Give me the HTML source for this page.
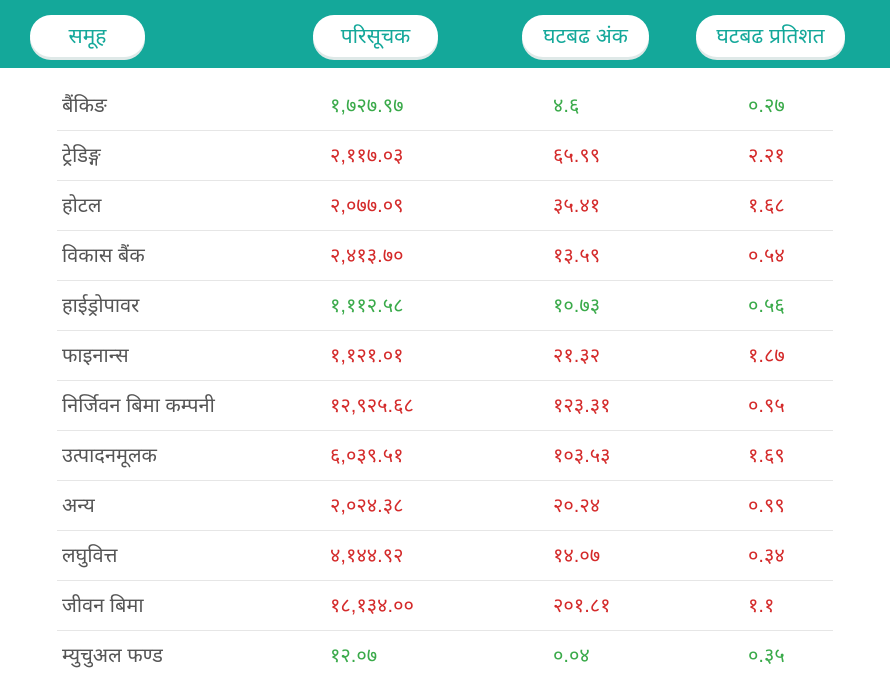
<!DOCTYPE html>
<html><head><meta charset="utf-8"><style>
body{margin:0;width:890px;height:691px;background:#fff;overflow:hidden;font-family:"Liberation Sans","Noto Sans CJK SC",sans-serif;position:relative}
.hdr{position:absolute;left:0;top:0;width:890px;height:68px;background:#14a89a}
.pill{position:absolute;top:15px;height:42px;background:#fff;border-radius:21px;color:#14a89a;font-size:21px;display:flex;align-items:center;justify-content:center;box-shadow:0 3px 0 #dfe9e8}
.row{position:absolute;left:57px;width:776px;height:50px}
.row .sep{position:absolute;left:0;right:0;bottom:0;height:1px;background:#e6e6e6}
.c{position:absolute;top:13px;font-size:20px;line-height:24px;white-space:nowrap}
.l{left:5px;color:#555}
.a{left:273px}.b{left:496px}.d{left:691px}
.g{color:#3aaa4a}.r{color:#d42a2a}
</style></head><body>
<div class="hdr">
<div class="pill" style="left:30px;width:115px">समूह</div>
<div class="pill" style="left:313px;width:125px">परिसूचक</div>
<div class="pill" style="left:522px;width:127px">घटबढ अंक</div>
<div class="pill" style="left:696px;width:149px">घटबढ प्रतिशत</div>
</div>
<div id="tbl"></div>
<script>
const sectors=["बैंकिङ","ट्रेडिङ्ग","होटल","विकास बैंक","हाईड्रोपावर","फाइनान्स","निर्जिवन बिमा कम्पनी","उत्पादनमूलक","अन्य","लघुवित्त","जीवन बिमा","म्युचुअल फण्ड"];
const indexVals=["१,७२७.९७","२,११७.०३","२,०७७.०९","२,४१३.७०","१,११२.५८","१,१२१.०१","१२,९२५.६८","६,०३९.५१","२,०२४.३८","४,१४४.९२","१८,१३४.००","१२.०७"];
const changePts=["४.६","६५.९९","३५.४१","१३.५९","१०.७३","२१.३२","१२३.३१","१०३.५३","२०.२४","१४.०७","२०१.८१","०.०४"];
const changePct=["०.२७","२.२१","१.६८","०.५४","०.५६","१.८७","०.९५","१.६९","०.९९","०.३४","१.१","०.३५"];
const up=[true,false,false,false,true,false,false,false,false,false,false,true];
const tbl=document.getElementById('tbl');
sectors.forEach((s,i)=>{
 const row=document.createElement('div');
 row.className='row';row.style.top=(81+i*50)+'px';
 
 
 const cls=up[i]?'g':'r';
 row.innerHTML='<div class="c l">'+s+'</div>'+
 '<div class="c a '+cls+'">'+indexVals[i]+'</div>'+
 '<div class="c b '+cls+'">'+changePts[i]+'</div>'+
 '<div class="c d '+cls+'">'+changePct[i]+'</div>'+
 (i<sectors.length-1?'<div class="sep"></div>':'');
 tbl.appendChild(row);
});
</script>
</body></html>
